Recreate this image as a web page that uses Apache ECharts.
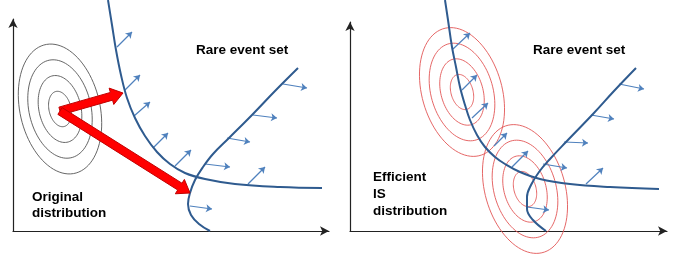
<!DOCTYPE html>
<html lang="en">
<head>
<meta charset="UTF-8">
<title>Rare event set</title>
<script src="https://cdn.jsdelivr.net/npm/echarts@6.0.0/dist/echarts.min.js"></script>
<style>
  html, body { margin: 0; padding: 0; background: #fff; }
  #viz { width: 692px; height: 255px; }
</style>
</head>
<body>
<div id="viz"></div>
<script>
// 1 unit = 1 px, measured from each panel's axis origin, y pointing up

// left panel: the two limit-state branches
const leftCurveA = [[95,231],[99,206],[103,181],[108,156],[114,133],[122,113],[132,95],[144,79],[157,67],[172,58],[192,52],[222,47],[267,44],[309,43]];
const leftCurveB = [[285,163],[262,140],[239,116],[216,93],[200,77],[190,64],[182,51],[177,38],[175,27],[178,16],[186,7],[197,0]];
// small normals: x1, y1, x2, y2
const leftNormals = [
  [104,184,119,199],[112,141,127,156],[121,115,137,129],[140,83,155,98],[162,65,178,81],[235,47,252,64],
  [270,147,294,143],[240,116,264,113],[214,93,237,89],[192,67,217,64],[177,25,199,22]
];
// original density: centre x, y, tilt (deg)
const leftDensity = [47, 122, 13];
// big red arrows: from x, y to x, y
const redArrows = [[47,120,110,138],[47,120,177,38]];

// right panel
const rightCurveA = [[95,231],[98,211],[102,184],[106,164],[110,144],[115,126],[120,111],[127,96],[135,84],[145,74],[155,67],[170,59],[190,52],[220,47],[260,44],[309,42]];
const rightCurveB = [[286,163],[264,140],[243,117],[216,89],[200,72],[189,59],[181,46],[177,34],[177,22],[183,11],[196,0]];
const rightNormals = [
  [103,182,120,198],[112,141,127,156],[122,113,138,128],[144,85,157,98],[162,64,178,80],[236,47,253,63],
  [269,147,294,142],[241,116,264,112],[214,89,238,88],[193,67,217,63],[177,24,199,21]
];
const isDensities = [[112, 139, 16], [175, 42, 16]];

// ring half-axes shared by every density
const ringMinor = [11, 21, 31, 40];
const ringMajor = [18, 34, 50, 66];

const rings = (c) => ringMinor.map((a, i) => [c[0], c[1], a, ringMajor[i], c[2]]);

const ellipseItem = (color) => (params, api) => {
  const cx = api.value(0), cy = api.value(1), a = api.value(2), b = api.value(3);
  const th = api.value(4) * Math.PI / 180;
  const pts = [];
  for (let i = 0; i < 90; i++) {
    const t = i / 90 * Math.PI * 2;
    const x = cx + a * Math.cos(t) * Math.cos(th) - b * Math.sin(t) * Math.sin(th);
    const y = cy + a * Math.cos(t) * Math.sin(th) + b * Math.sin(t) * Math.cos(th);
    pts.push(api.coord([x, y]));
  }
  return { type: 'polygon', shape: { points: pts }, style: { fill: 'none', stroke: color, lineWidth: 0.9 } };
};

const arrowItem = (params, api) => {
  const p0 = api.coord([api.value(0), api.value(1)]);
  const p1 = api.coord([api.value(2), api.value(3)]);
  const dx = p1[0] - p0[0], dy = p1[1] - p0[1];
  const len = Math.hypot(dx, dy);
  const ux = dx / len, uy = dy / len, nx = -uy, ny = ux;
  const sw = 4, hw = 8.5, hl = 12;
  const bx = p1[0] - ux * hl, by = p1[1] - uy * hl;
  return {
    type: 'polygon',
    shape: { points: [
      [p0[0] + nx * sw, p0[1] + ny * sw], [bx + nx * sw, by + ny * sw], [bx + nx * hw, by + ny * hw],
      p1,
      [bx - nx * hw, by - ny * hw], [bx - nx * sw, by - ny * sw], [p0[0] - nx * sw, p0[1] - ny * sw]
    ] },
    style: { fill: '#ff0000', stroke: '#c00000', lineWidth: 1 }
  };
};

const curveColor = '#2f5b8f';
const normalColor = '#4f81bd';

const axisLine = {
  show: true,
  symbol: ['none', 'arrow'],
  symbolSize: [7, 9],
  lineStyle: { color: '#222', width: 1.2 }
};
const bare = { axisLine, axisTick: { show: false }, axisLabel: { show: false }, splitLine: { show: false } };

const curve = (data, xi) => ({
  type: 'line', xAxisIndex: xi, yAxisIndex: xi, data, smooth: 0.4, symbol: 'none', clip: false,
  lineStyle: { color: curveColor, width: 2 }, z: 4, silent: true
});
const normals = (rows, xi) => ({
  type: 'lines', coordinateSystem: 'cartesian2d', xAxisIndex: xi, yAxisIndex: xi,
  symbol: ['none', 'arrow'], symbolSize: 6, clip: false, silent: true, z: 3,
  lineStyle: { color: normalColor, width: 1.2, opacity: 1, curveness: 0 },
  data: rows.map(r => ({ coords: [[r[0], r[1]], [r[2], r[3]]] }))
});

const font = 'bold 13.5px "Liberation Sans", Arial, sans-serif';

const option = {
  animation: false,
  grid: [
    { left: 13, top: 19, width: 316, height: 212 },
    { left: 350, top: 22, width: 317, height: 209 }
  ],
  xAxis: [
    Object.assign({ type: 'value', gridIndex: 0, min: 0, max: 316 }, bare),
    Object.assign({ type: 'value', gridIndex: 1, min: 0, max: 317 }, bare)
  ],
  yAxis: [
    Object.assign({ type: 'value', gridIndex: 0, min: 0, max: 212 }, bare),
    Object.assign({ type: 'value', gridIndex: 1, min: 0, max: 209 }, bare)
  ],
  graphic: [
    { type: 'text', left: 196, top: 43, style: { text: 'Rare event set', font, fill: '#000' } },
    { type: 'text', left: 533, top: 43, style: { text: 'Rare event set', font, fill: '#000' } },
    { type: 'text', left: 32, top: 189, style: { text: 'Original\ndistribution', font, lineHeight: 16, fill: '#000' } },
    { type: 'text', left: 373, top: 169, style: { text: 'Efficient\nIS\ndistribution', font, lineHeight: 17, fill: '#000' } }
  ],
  series: [
    { type: 'custom', xAxisIndex: 0, yAxisIndex: 0, renderItem: ellipseItem('#555'), data: rings(leftDensity), z: 1, silent: true },
    curve(leftCurveA, 0),
    curve(leftCurveB, 0),
    normals(leftNormals, 0),
    { type: 'custom', xAxisIndex: 0, yAxisIndex: 0, renderItem: arrowItem, data: redArrows, z: 5, silent: true },

    { type: 'custom', xAxisIndex: 1, yAxisIndex: 1, renderItem: ellipseItem('#e25656'),
      data: isDensities.flatMap(rings), z: 1, silent: true },
    curve(rightCurveA, 1),
    curve(rightCurveB, 1),
    normals(rightNormals, 1)
  ]
};

const chart = echarts.init(document.getElementById('viz'), null, { renderer: 'canvas' });
chart.setOption(option);
window.onresize = () => chart.resize();
</script>
</body>
</html>
